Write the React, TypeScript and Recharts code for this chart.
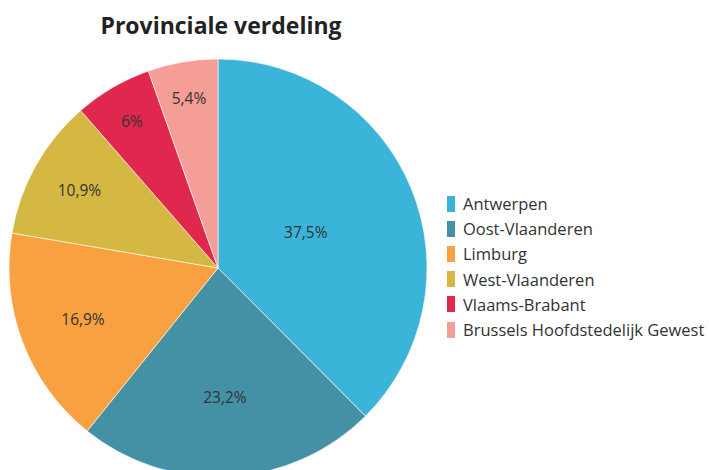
import React from "react";
import { PieChart, Pie, Cell } from "recharts";

const provinces = [
    "Antwerpen",
    "Oost-Vlaanderen",
    "Limburg",
    "West-Vlaanderen",
    "Vlaams-Brabant",
    "Brussels Hoofdstedelijk Gewest",
];
const shares = [37.5, 23.2, 16.9, 10.9, 6, 5.4];
const colors = ["#3bb4da", "#4491a5", "#f9a041", "#d5b843", "#e0284f", "#f59d97"];

const data = provinces.map((name, i) => ({ name, value: shares[i], fill: colors[i] }));

const RAD = Math.PI / 180;
const font = "'Open Sans', sans-serif";

const renderLabel = ({ cx, cy, midAngle, outerRadius, value }: any) => {
    // smaller slices get their label closer to the edge
    const r = outerRadius - (24 + 2.4 * value);
    const x = cx + r * Math.cos(-midAngle * RAD);
    const y = cy + r * Math.sin(-midAngle * RAD);
    return (
        <text x={x} y={y} fill="#333" fontSize={15.5} fontFamily={font} textAnchor="middle" dominantBaseline="central">
            {`${String(value).replace(".", ",")}%`}
        </text>
    );
};

export default function App() {
    return (
        <div style={{ position: "absolute", left: 0, top: 0, width: 709, height: 470, background: "#fff", overflow: "hidden" }}>
            <div
                style={{
                    position: "absolute",
                    left: 0,
                    width: 442,
                    top: 9,
                    textAlign: "center",
                    fontFamily: font,
                    fontWeight: 700,
                    fontSize: 23,
                    color: "#222",
                }}
            >
                Provinciale verdeling
            </div>
            <PieChart width={709} height={470} margin={{ top: 0, right: 0, bottom: 0, left: 0 }}>
                <Pie
                    dataKey="value"
                    data={data}
                    cx={218}
                    cy={268}
                    outerRadius={209}
                    startAngle={90}
                    endAngle={-270}
                    stroke="#fff"
                    strokeWidth={0.6}
                    labelLine={false}
                    label={renderLabel}
                    isAnimationActive={false}
                >
                    {data.map((entry, index) => (
                        <Cell key={`cell-${index}`} fill={entry.fill} />
                    ))}
                </Pie>
            </PieChart>
            <div style={{ position: "absolute", left: 447, top: 191, fontFamily: font, fontSize: 16.5, color: "#333" }}>
                {data.map((d) => (
                    <div key={d.name} style={{ display: "flex", alignItems: "center", height: 25.2, whiteSpace: "nowrap" }}>
                        <span style={{ width: 8, height: 16, background: d.fill, marginRight: 8, display: "inline-block" }} />
                        {d.name}
                    </div>
                ))}
            </div>
        </div>
    );
}
